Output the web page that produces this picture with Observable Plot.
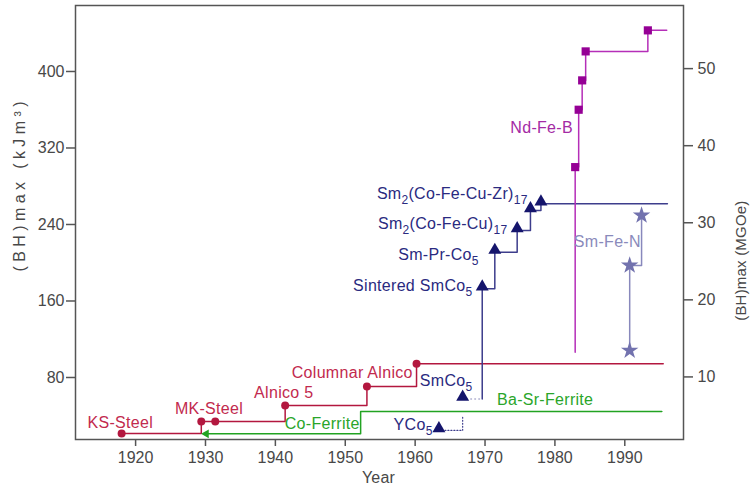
<!DOCTYPE html>
<html>
<head>
<meta charset="utf-8">
<script src="https://cdn.jsdelivr.net/npm/d3@7"></script>
<script src="https://cdn.jsdelivr.net/npm/@observablehq/plot@0.6"></script>
<style>
  html, body { margin: 0; padding: 0; background: #fff; }
  .lbl text { letter-spacing: 0.3px; }
  .axlbl text { letter-spacing: 0.2px; }
</style>
</head>
<body>
<div id="chart"></div>
<script>
// ---- data ----
const xTicks = [1920, 1930, 1940, 1950, 1960, 1970, 1980, 1990];
const leftTicks = [80, 160, 240, 320, 400];
const rightTicks = [10, 20, 30, 40, 50];   // MGOe
const kJperMGOe = 8.06;

// Steels & Alnico (red)
const steelYears  = [1918.0, 1929.4, 1931.4, 1941.4, 1953.1, 1960.2];
const steelValues = [21.5, 34.0, 34.0, 50.7, 70.6, 94.3];
const steelEnd = 1995.5;

// Ferrites (green)
const ferriteYears  = [1930.1, 1952.2];
const ferriteValues = [21.1, 44.4];
const ferriteEnd = 1995.3;

// SmCo family (navy)
const ycoYears = [1963.4, 1966.8];
const ycoValues = [24.6, 40.2];
const smco5Years = [1966.8, 1969.6];
const smco5Values = [57.5, 57.5];
const smcoYears  = [1969.6, 1969.6, 1971.4, 1974.6, 1976.5, 1978.0];
const smcoValues = [57.5, 172.8, 211.1, 233.8, 254.7, 261.7];
const smcoEnd = 1996.1;
const triYears  = [1963.4, 1966.8, 1969.6, 1971.4, 1974.6, 1976.5, 1978.0];
const triValues = [24.6, 57.5, 172.8, 211.1, 233.8, 254.7, 261.7];

// Nd-Fe-B (magenta)
const ndStartYear = 1982.9, ndStartValue = 106.5;
const ndYears  = [1982.9, 1983.4, 1983.9, 1984.4, 1993.3];
const ndValues = [300.0, 360.0, 390.7, 421.0, 443.0];
const ndEnd = 1996.0;

// Sm-Fe-N (slate)
const sfnYears  = [1990.7, 1990.7, 1992.4];
const sfnValues = [108.2, 197.2, 249.5];

// labels
const redLabels = ["KS-Steel", "MK-Steel", "Alnico 5", "Columnar Alnico"];
const redLabelX = [1917.8, 1930.5, 1941.2, 1951.0];
const redLabelY = [32.2, 47.3, 64.0, 84.5];
const greenLabels = ["Co-Ferrite", "Ba-Sr-Ferrite"];
const greenLabelX = [1946.7, 1978.6];
const greenLabelY = [31.6, 57.0];
const navyLabels = ["YCo_5", "SmCo_5", "Sintered SmCo_5", "Sm-Pr-Co_5", "Sm_2(Co-Fe-Cu)_17", "Sm_2(Co-Fe-Cu-Zr)_17"];
const navyLabelX = [1962.5, 1968.2, 1968.2, 1969.1, 1973.2, 1976.1];
const navyLabelY = [30.5, 76.9, 176.2, 208.3, 240.8, 272.2];
const ndLabel = "Nd-Fe-B", ndLabelX = 1978.1, ndLabelY = 340.8;
const sfnLabel = "Sm-Fe-N", sfnLabelX = 1987.5, sfnLabelY = 221.5;
const leftTitle = "(BH)max (kJm³)";
const rightTitle = "(BH)max (MGOe)";
const xTitle = "Year";

// ---- build tables ----
const pts = (xs, ys) => xs.map((x, i) => ({x, y: ys[i]}));
const withEnd = (xs, ys, end) => [...pts(xs, ys), {x: end, y: ys[ys.length - 1]}];
const lbls = (t, xs, ys) => t.map((s, i) => ({t: s, x: xs[i], y: ys[i]}));

const RED = "#b3173f", RED_T = "#c22a4e";
const GREEN = "#22a322", GREEN_T = "#2aa52a";
const NAVY = "#15156c", NAVY_L = "#3d3d8c", NAVY_T = "#2a2a80";
const MAG = "#950095", MAG_L = "#b52eb8", MAG_T = "#a42aa4";
const SLATE = "#7272ae", SLATE_L = "#8888bc", SLATE_T = "#8a8abb";

const plot = Plot.plot({
  width: 750,
  height: 496,
  marginLeft: 75,
  marginRight: 67,
  marginTop: 5,
  marginBottom: 57,
  x: {domain: [1911.4, 1998.4]},
  y: {domain: [15.16, 469]},
  style: {fontFamily: "'Liberation Sans', Arial, sans-serif", fontSize: "16px", color: "#484848", background: "white"},
  marks: [
    Plot.axisX({ticks: xTicks, tickFormat: d => String(d), tickSize: 7, tickPadding: 5, label: null, stroke: "#555", strokeWidth: 1.5}),
    Plot.axisY({ticks: leftTicks, tickSize: 9, tickPadding: 2, label: null, stroke: "#555", strokeWidth: 1.5}),
    Plot.axisY({ticks: rightTicks.map(m => m * kJperMGOe), anchor: "right", tickFormat: d => String(Math.round(d / kJperMGOe)), tickSize: 9, tickPadding: 5, label: null, stroke: "#555", strokeWidth: 1.5}),

    // lines
    Plot.line(withEnd(steelYears, steelValues, steelEnd), {x: "x", y: "y", curve: "step-after", stroke: RED, strokeWidth: 1.5}),
    Plot.line(withEnd(ferriteYears, ferriteValues, ferriteEnd), {x: "x", y: "y", curve: "step-after", stroke: GREEN, strokeWidth: 1.5}),
    Plot.line(pts(ycoYears, ycoValues), {x: "x", y: "y", curve: "step-after", stroke: NAVY_L, strokeWidth: 1.2, strokeDasharray: "1,2"}),
    Plot.line(pts(smco5Years, smco5Values), {x: "x", y: "y", curve: "step-after", stroke: NAVY_L, strokeWidth: 1, strokeDasharray: "1,3", strokeOpacity: 0.6}),
    Plot.line(withEnd(smcoYears, smcoValues, smcoEnd), {x: "x", y: "y", curve: "step-after", stroke: NAVY_L, strokeWidth: 1.5}),
    Plot.line([{x: ndStartYear, y: ndStartValue}, ...withEnd(ndYears, ndValues, ndEnd)], {x: "x", y: "y", curve: "step-after", stroke: MAG_L, strokeWidth: 1.5}),
    Plot.line(pts(sfnYears, sfnValues), {x: "x", y: "y", curve: "step-after", stroke: SLATE_L, strokeWidth: 1.5}),

    // markers
    Plot.dot(pts(steelYears, steelValues), {x: "x", y: "y", r: 4, fill: RED, symbol: "circle"}),
    Plot.dot(pts(ferriteYears.slice(0, 1), ferriteValues.slice(0, 1)), {x: "x", y: "y", r: 3.3, fill: GREEN, symbol: "triangle", rotate: -90}),
    Plot.dot(pts(triYears, triValues), {x: "x", y: "y", r: 4.8, fill: NAVY, symbol: "triangle", dy: -2}),
    Plot.dot(pts(ndYears, ndValues), {x: "x", y: "y", r: 4.6, fill: MAG, symbol: "square"}),
    Plot.dot(pts(sfnYears, sfnValues), {x: "x", y: "y", r: 5.5, fill: SLATE, symbol: "star"}),

    // labels
    Plot.text(lbls(redLabels, redLabelX, redLabelY), {x: "x", y: "y", text: "t", fill: RED_T, textAnchor: "middle", className: "lbl"}),
    Plot.text(lbls(greenLabels, greenLabelX, greenLabelY), {x: "x", y: "y", text: "t", fill: GREEN_T, textAnchor: "middle", className: "lbl"}),
    Plot.text(lbls(navyLabels, navyLabelX, navyLabelY), {x: "x", y: "y", text: "t", fill: NAVY_T, textAnchor: "end", className: "lbl"}),
    Plot.text([{t: ndLabel, x: ndLabelX, y: ndLabelY}], {x: "x", y: "y", text: "t", fill: MAG_T, textAnchor: "middle", className: "lbl"}),
    Plot.text([{t: sfnLabel, x: sfnLabelX, y: sfnLabelY}], {x: "x", y: "y", text: "t", fill: SLATE_T, textAnchor: "middle", className: "lbl"}),

    // axis titles
    Plot.text([leftTitle], {text: d => d, frameAnchor: "left", rotate: -90, dx: -56, dy: -37, textAnchor: "start", fill: "#484848", className: "ytitle-left"}),
    Plot.text([rightTitle], {text: d => d, frameAnchor: "right", rotate: -90, dx: 58, dy: -22, fill: "#484848", fontSize: 15, className: "axlbl"}),
    Plot.text([xTitle], {text: d => d, frameAnchor: "bottom", dx: -1, dy: 43, fill: "#484848", className: "axlbl"}),

    Plot.frame({stroke: "#555", strokeWidth: 1.5})
  ]
});

// render subscripts (_digits) as tspans
const NS = "http://www.w3.org/2000/svg";
plot.querySelectorAll(".lbl text").forEach(t => {
  const s = t.textContent;
  if (!/_\d/.test(s)) return;
  t.textContent = "";
  const parts = s.split(/(_\d+)/).filter(p => p);
  let shifted = false;
  parts.forEach(p => {
    const ts = document.createElementNS(NS, "tspan");
    if (p[0] === "_") {
      ts.textContent = p.slice(1);
      ts.setAttribute("font-size", "12px");
      if (!shifted) ts.setAttribute("dy", "5");
      shifted = true;
    } else {
      ts.textContent = p;
      if (shifted) { ts.setAttribute("dy", "-5"); shifted = false; }
    }
    t.appendChild(ts);
  });
});
// the left axis title is set wider in the reference: start-anchored, spread to its length
plot.querySelectorAll(".ytitle-left text").forEach(t => {
  t.setAttribute("x", "-86");
  t.setAttribute("textLength", "170");
  t.setAttribute("lengthAdjust", "spacing");
});

document.getElementById("chart").appendChild(plot);
</script>
</body>
</html>
